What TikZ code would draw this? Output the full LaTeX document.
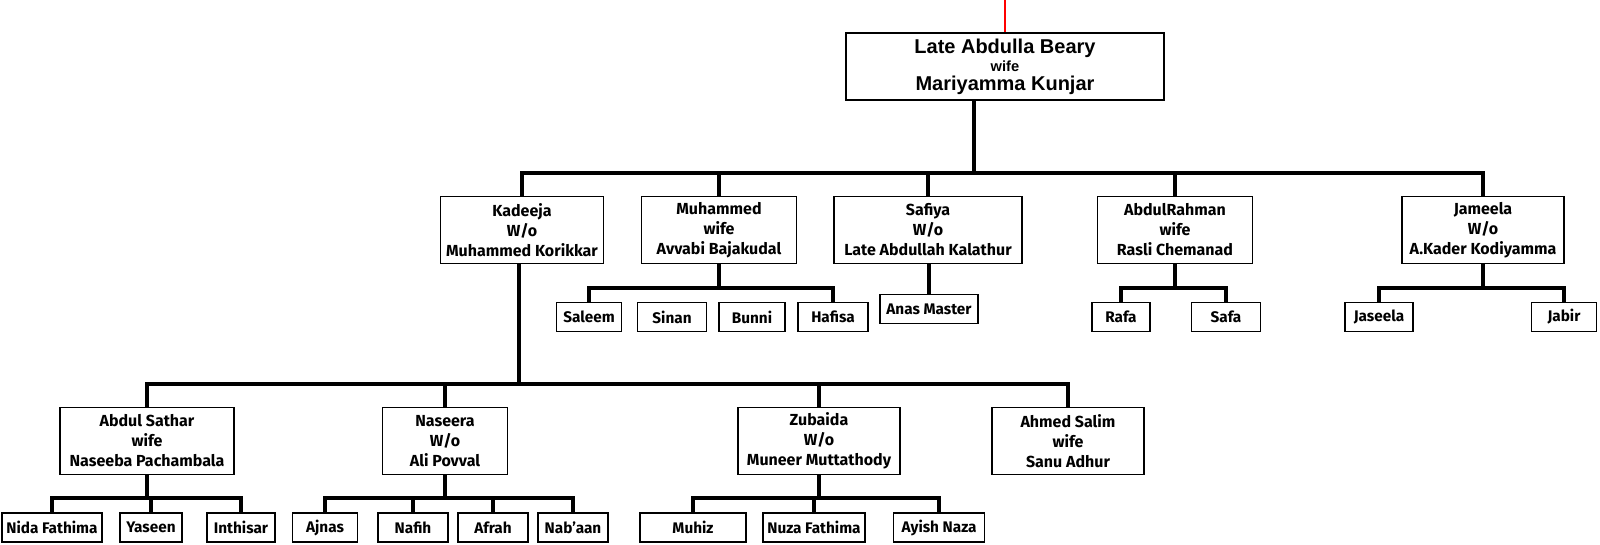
\documentclass[tikz,border=0pt]{standalone}
\usepackage{fontspec}
\setmainfont{Fira Sans}
\newfontfamily\rootfont{Liberation Sans}
\usetikzlibrary{positioning}
\newdimen\pxu
\pxu=0.75pt

\begin{document}
\begin{tikzpicture}[x=0.75pt,y=-0.75pt,
    person/.style={draw,line width=1.4pt,align=center,inner sep=0pt,minimum height=67\pxu,font=\bfseries\fontsize{12}{15}\selectfont,anchor=center},
    kid/.style={draw,line width=1.4pt,inner sep=0pt,minimum height=29\pxu,font=\bfseries\fontsize{11.5}{15}\selectfont,anchor=center},
    link/.style={line width=2.5pt},
]
\useasboundingbox (0,0) rectangle (1600,544);
\node[draw,line width=1.4pt,align=center,inner sep=0pt,minimum width=318\pxu,minimum height=67\pxu,font=\rootfont\bfseries\fontsize{15}{14}\selectfont] (root) at (1005,66.5) {Late Abdulla Beary\\{\fontsize{11}{13}\selectfont wife}\\Mariyamma Kunjar};
\node[person,minimum width=163\pxu] (kad) at (522,230) {Kadeeja\\W/o\\Muhammed Korikkar};
\node[person,minimum width=155\pxu] (muh) at (719,230) {Muhammed\\wife\\Avvabi Bajakudal};
\node[person,minimum width=188\pxu] (saf) at (928,230) {Safiya\\W/o\\Late Abdullah Kalathur};
\node[person,minimum width=155\pxu] (abr) at (1175,230) {AbdulRahman\\wife\\Rasli Chemanad};
\node[person,minimum width=162\pxu] (jam) at (1483,230) {Jameela\\W/o\\A.Kader Kodiyamma};
\node[kid,minimum width=65\pxu] (sal) at (589,317) {Saleem};
\node[kid,minimum width=69\pxu] (sin) at (672,317) {Sinan};
\node[kid,minimum width=66\pxu] (bun) at (752,317) {Bunni};
\node[kid,minimum width=70\pxu] (haf) at (833,317) {Hafisa};
\node[kid,minimum width=98\pxu] (ana) at (929,309) {Anas Master};
\node[kid,minimum width=58\pxu] (raf) at (1121,317) {Rafa};
\node[kid,minimum width=69\pxu] (sfa) at (1226,317) {Safa};
\node[kid,minimum width=68\pxu] (jas) at (1379,317) {Jaseela};
\node[kid,minimum width=65\pxu] (jab) at (1564,317) {Jabir};
\node[person,minimum width=174\pxu] (sat) at (147,441) {Abdul Sathar\\wife\\Naseeba Pachambala};
\node[person,minimum width=125\pxu] (nas) at (445,441) {Naseera\\W/o\\Ali Povval};
\node[person,minimum width=162\pxu] (zub) at (819,441) {Zubaida\\W/o\\Muneer Muttathody};
\node[person,minimum width=152\pxu] (ahm) at (1068,441) {Ahmed Salim\\wife\\Sanu Adhur};
\node[kid,minimum width=100\pxu] (nid) at (52,527.5) {Nida Fathima};
\node[kid,minimum width=62\pxu] (yas) at (151,527.5) {Yaseen};
\node[kid,minimum width=68\pxu] (int) at (241,527.5) {Inthisar};
\node[kid,minimum width=65\pxu] (ajn) at (325,527.5) {Ajnas};
\node[kid,minimum width=70\pxu] (naf) at (413,527.5) {Nafih};
\node[kid,minimum width=70\pxu] (afr) at (493,527.5) {Afrah};
\node[kid,minimum width=70\pxu] (nab) at (573,527.5) {Nab'aan};
\node[kid,minimum width=106\pxu] (muz) at (693,527.5) {Muhiz};
\node[kid,minimum width=102\pxu] (nuz) at (814,527.5) {Nuza Fathima};
\node[kid,minimum width=91\pxu] (ayi) at (939,527.5) {Ayish Naza};
\coordinate (top) at (1005,0);
\coordinate (b0) at (974,173);
\coordinate (b1) at (719,288);
\coordinate (b2) at (1175,288);
\coordinate (b3) at (1483,288);
\coordinate (b4) at (519,384);
\coordinate (b5) at (147,498);
\coordinate (b6) at (445,498);
\coordinate (b7) at (819,498);
\draw[red,line width=2.2pt] (top) -- (root.north);
\draw[link] (root.south -| b0) -- (b0);
\draw[link] (kad.north) -- (kad.north |- b0) -- (jam.north |- b0) -- (jam.north);
\foreach \n in {muh,saf,abr} \draw[link] (\n.north) -- (\n.north |- b0);
\draw[link] (muh.south) -- (b1);
\draw[link] (sal.north) -- (sal.north |- b1) -- (haf.north |- b1) -- (haf.north);
\draw[link] (saf.south -| ana.north) -- (ana.north);
\draw[link] (abr.south) -- (b2);
\draw[link] (raf.north) -- (raf.north |- b2) -- (sfa.north |- b2) -- (sfa.north);
\draw[link] (jam.south) -- (b3);
\draw[link] (jas.north) -- (jas.north |- b3) -- (jab.north |- b3) -- (jab.north);
\draw[link] (kad.south -| b4) -- (b4);
\draw[link] (sat.north) -- (sat.north |- b4) -- (ahm.north |- b4) -- (ahm.north);
\foreach \n in {nas,zub} \draw[link] (\n.north) -- (\n.north |- b4);
\draw[link] (sat.south) -- (b5);
\draw[link] (nid.north) -- (nid.north |- b5) -- (int.north |- b5) -- (int.north);
\draw[link] (yas.north) -- (yas.north |- b5);
\draw[link] (nas.south) -- (b6);
\draw[link] (ajn.north) -- (ajn.north |- b6) -- (nab.north |- b6) -- (nab.north);
\foreach \n in {naf,afr} \draw[link] (\n.north) -- (\n.north |- b6);
\draw[link] (zub.south) -- (b7);
\draw[link] (muz.north) -- (muz.north |- b7) -- (ayi.north |- b7) -- (ayi.north);
\draw[link] (nuz.north) -- (nuz.north |- b7);
\end{tikzpicture}
\end{document}
